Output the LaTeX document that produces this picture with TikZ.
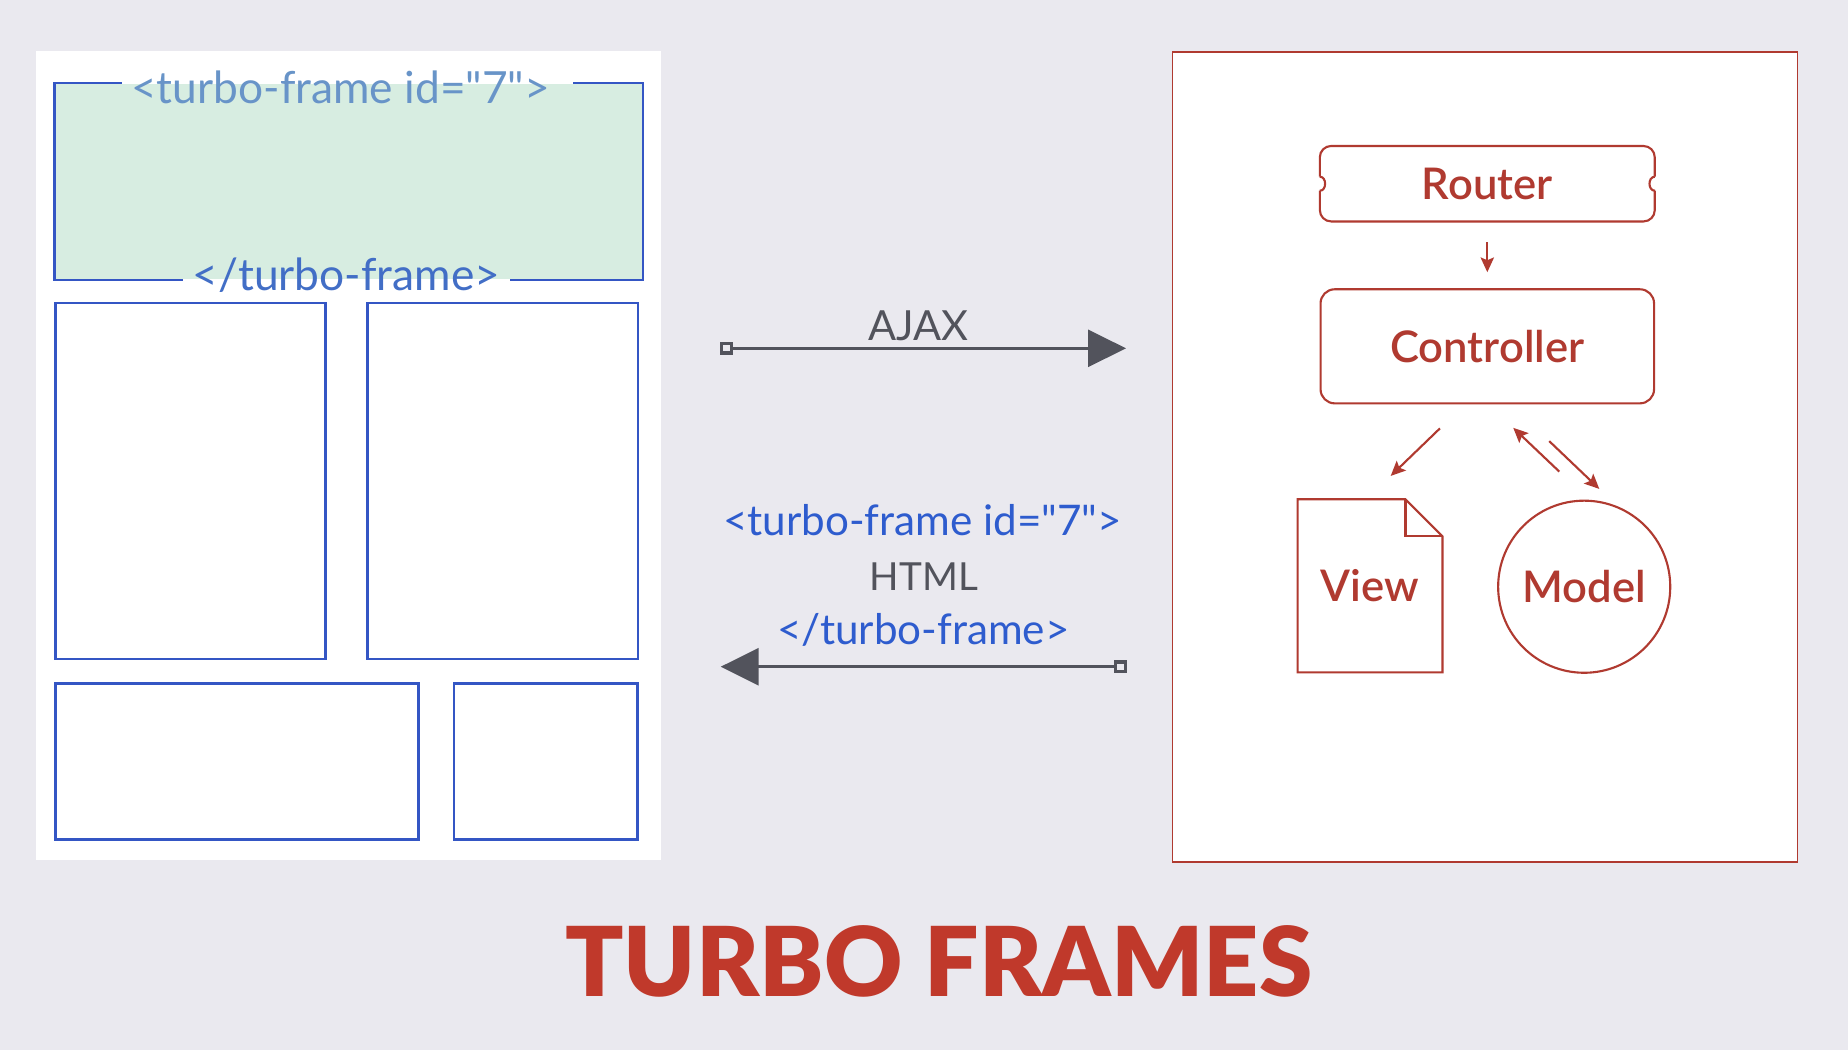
\documentclass[tikz,border=0pt]{standalone}
\usepackage{fontspec}
\setmainfont{Lato}[Ligatures=TeXOff]
\IfFontExistsTF{Lato Black}{\newfontfamily\titlefont{Lato Black}}{\newcommand\titlefont{\bfseries}}
\IfFontExistsTF{Lato Semibold}{\newfontfamily\mvcfont{Lato Semibold}}{\newcommand\mvcfont{\bfseries}}
\usetikzlibrary{arrows.meta, positioning, calc}
\definecolor{turbobg}{RGB}{234,233,239}
\definecolor{turboblue}{RGB}{52,86,196}
\definecolor{turbogreen}{RGB}{215,237,225}
\definecolor{tagblue}{RGB}{46,92,206}
\definecolor{tagfaded}{RGB}{104,148,200}
\definecolor{tagclose}{RGB}{66,110,198}
\definecolor{turbogray}{RGB}{82,83,92}
\definecolor{turbored}{RGB}{176,58,48}
\definecolor{titlered}{RGB}{192,57,43}
\tikzstyle{pagebox} = [draw=turboblue, line width=0.7pt, inner sep=0pt]
\tikzstyle{mvcline} = [turbored, line width=0.6pt]
\tikzstyle{mvclabel} = [text=turbored, font=\mvcfont\fontsize{12.4}{14}\selectfont, inner sep=0pt]
\tikzstyle{mvcarrow} = [mvcline, -{Stealth[length=4.2pt,width=3.8pt,inset=0.8pt]}]
\tikzstyle{wire} = [turbogray, line width=0.9pt, {Square[open,length=3.6pt,width=3.6pt]}-{Triangle[length=10.8pt,width=10.5pt]}]
\tikzstyle{tag} = [anchor=base, font=\fontsize{12}{14}\selectfont]
\tikzstyle{pagetag} = [anchor=base, font=\fontsize{12.6}{15}\selectfont, inner xsep=2.5pt]

\begin{document}
\begin{tikzpicture}[x=0.01cm, y=-0.01cm]
% Background
\fill[turbobg] (0,0) rectangle (1848,1050);
\useasboundingbox (0,0) rectangle (1848,1050);

% Page with the frame
\fill[white] (36,51) rectangle (661,860);
\node[fill=turbogreen, minimum width=5.869cm, minimum height=1.956cm, inner sep=0pt] (greenbox) at (348.9,181.5) {};
\node[pagetag, text=tagfaded] (framestart) at (340.6,103) {<turbo-frame id="7">};
\node[pagetag, text=tagclose] (frameend) at (346.5,290) {</turbo-frame>};
\draw[pagebox] (framestart.west |- greenbox.north) -- (greenbox.north west) -- (greenbox.south west) -- (frameend.west |- greenbox.south);
\draw[pagebox] ($(framestart.east |- greenbox.north)+(14,0)$) -- (greenbox.north east) -- (greenbox.south east) -- (frameend.east |- greenbox.south);

% Other parts of the page
\node[pagebox, minimum width=2.699cm, minimum height=3.559cm] (partA) at (190.4,480.9) {};
\node[pagebox, minimum width=2.699cm, minimum height=3.559cm] (partB) at (502.7,480.9) {};
\node[pagebox, minimum width=3.63cm, minimum height=1.556cm] (partC) at (236.9,761.4) {};
\node[pagebox, minimum width=1.838cm, minimum height=1.556cm] (partD) at (545.7,761.4) {};

% Request and response
\coordinate (ajaxfrom) at (720,348.3);
\coordinate (ajaxto) at (1126,348.3);
\draw[wire] (ajaxfrom) -- (ajaxto);
\node[tag, text=turbogray, font=\fontsize{11.8}{13}\selectfont] (ajax) at (918.3,340) {AJAX};

\node[tag, text=tagblue] (replystart) at (922.5,535) {<turbo-frame id="7">};
\node[tag, text=turbogray, font=\fontsize{11}{13}\selectfont] (html) at (924,590) {HTML};
\node[tag, text=tagblue] (replyend) at (923.3,644) {</turbo-frame>};
\coordinate (replyfrom) at (1126.7,666.7);
\coordinate (replyto) at (720.7,666.7);
\draw[wire] (replyfrom) -- (replyto);

% Server
\node[draw=turbored, fill=white, line width=0.5pt, minimum width=6.247cm, minimum height=8.097cm] (server) at (1485,456.7) {};

\node[mvclabel, minimum width=3.333cm, minimum height=0.74cm] (router) at (1487.3,183.7) {Router};
\draw[mvcline, rounded corners=3.2pt] ($(router.east)+(0,-7)$) -- (router.north east) -- (router.north west) -- ($(router.west)+(0,-7)$);
\draw[mvcline, rounded corners=3.2pt] ($(router.west)+(0,7)$) -- (router.south west) -- (router.south east) -- ($(router.east)+(0,7)$);
\draw[mvcline] ($(router.west)+(0,-7)$) .. controls ($(router.west)+(7,-7)$) and ($(router.west)+(7,7)$) .. ($(router.west)+(0,7)$);
\draw[mvcline] ($(router.east)+(0,-7)$) .. controls ($(router.east)+(-7,-7)$) and ($(router.east)+(-7,7)$) .. ($(router.east)+(0,7)$);

\node[mvclabel, draw=turbored, line width=0.6pt, rounded corners=4pt, minimum width=3.333cm, minimum height=1.14cm] (controller) at (1487.3,346.3) {Controller};

\node[mvclabel, minimum width=1.434cm, minimum height=1.717cm] (view) at (1370,585.8) {View};
\draw[mvcline] (view.north west) -- ($(view.north east)+(-37,0)$) -- ($(view.north east)+(0,37)$) -- (view.south east) -- (view.south west) -- cycle;
\draw[mvcline] ($(view.north east)+(-37,0)$) -- ($(view.north east)+(-37,37)$) -- ($(view.north east)+(0,37)$);

\node[mvclabel, draw=turbored, line width=0.6pt, circle, minimum size=1.72cm] (model) at (1584.2,586.7) {Model};

% Arrows
\draw[mvcarrow, shorten <=0.21cm, shorten >=0.16cm] (router.south) -- (controller.north);
\draw[mvcarrow] ($(controller.south)+(-47.4,24)$) -- ($(view.north)+(20.7,-23.3)$);
\draw[mvcarrow] ($(model.north)+(-24.9,-28)$) -- ($(controller.south)+(25.9,23.4)$);
\draw[mvcarrow] ($(controller.south)+(61.9,36.7)$) -- ($(model.north)+(15.1,-10.7)$);

% Title
\node[anchor=base, text=titlered, font=\titlefont\fontsize{27.4}{32}\selectfont] (title) at (938.8,996) {TURBO FRAMES};
\end{tikzpicture}
\end{document}
